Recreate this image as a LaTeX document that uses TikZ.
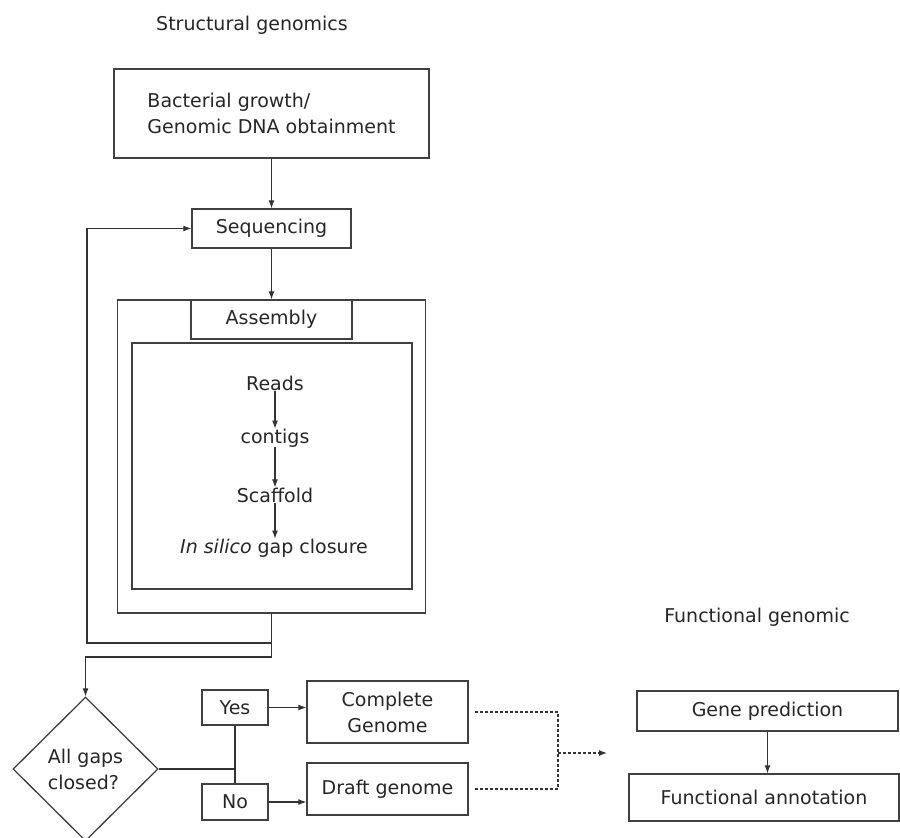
\documentclass[tikz,border=0pt]{standalone}
\usepackage{fontspec}
\setmainfont{DejaVu Sans}
\usetikzlibrary{shapes.geometric,arrows.meta}

\begin{document}
\begin{tikzpicture}[x=1pt,y=-1pt,
    font=\fontsize{19}{26}\selectfont, text=black!85,
    box/.style={draw=black!75, line width=1.3pt, inner sep=0pt},
    link/.style={draw=black!80, line width=1.1pt},
    arr/.style={link, -{Latex[length=8pt,width=6pt]}},
    dashlink/.style={link, densely dashed}]
  \useasboundingbox (0,0) rectangle (900,838);
  % Titulos
  \node (stitle) at (252,25) {Structural genomics};
  \node (ftitle) at (757,617) {Functional genomic};
  % Genomica estructural
  \node[box, minimum width=315, minimum height=89, align=left] (growth) at (271.5,113.5)
    {Bacterial growth/\\Genomic DNA obtainment};
  \node[box, minimum width=159, minimum height=39] (seq) at (271.5,228.5) {Sequencing};
  \node[box, minimum width=308, minimum height=313] (outer) at (271.5,456.5) {};
  \node[box, minimum width=161, minimum height=39] (asm) at (271.5,319.5) {Assembly};
  \node[box, minimum width=280, minimum height=246] (inner) at (272,466) {};
  \node[inner sep=0pt] (reads) at (275,383) {Reads};
  \node[inner sep=0pt] (contigs) at (275,438) {contigs};
  \node[inner sep=0pt] (scaf) at (275,495) {Scaffold};
  \node[inner sep=0pt] (gapc) at (274,548) {\textit{In silico} gap closure};
  \draw[arr] (growth) -- (seq);
  \draw[arr] (seq) -- (outer.north);
  \draw[arr] (reads) -- (contigs);
  \draw[arr] (contigs) -- (scaf);
  \draw[arr] (scaf) -- (scaf |- gapc.north);
  % Bucle de retorn
  \node[box, diamond, minimum width=145, minimum height=144, align=left] (gaps) at (85.5,769)
    {All gaps\\closed?};
  \coordinate (j1) at (271.5,643);
  \coordinate (j2) at (271.5,657);
  \coordinate (lc) at (87,643);
  \draw[link] (outer.south) -- (j2);
  \draw[arr] (j2) -| (gaps.north);
  \draw[arr] (j1) -- (lc) |- (seq.west);
  % Decisio
  \node[box, minimum width=66, minimum height=35] (yes) at (235,707.5) {Yes};
  \node[box, minimum width=66, minimum height=36] (no) at (235,802) {No};
  \node[box, minimum width=161, minimum height=62, align=center] (complete) at (387.5,712)
    {Complete\\Genome};
  \node[box, minimum width=161, minimum height=52] (draft) at (387.5,789) {Draft genome};
  \draw[link] (gaps.east) -- (yes.south |- gaps.east);
  \draw[link] (yes.south) -- (no.north);
  \draw[arr] (yes.east) -- (yes.east -| complete.west);
  \draw[arr] (no.east) -- (no.east -| draft.west);
  % Genomica funcional
  \coordinate (dm) at (558,753);
  \coordinate (fg) at (607,753);
  \draw[dashlink] ([xshift=6]complete.east) -| (dm);
  \draw[dashlink] ([xshift=6]draft.east) -| (dm);
  \draw[arr, densely dashed] (dm) -- (fg);
  \node[box, minimum width=261, minimum height=40] (gene) at (767.5,711) {Gene prediction};
  \node[box, minimum width=270, minimum height=47] (annot) at (764,797.5) {Functional annotation};
  \draw[arr] (gene) -- (gene |- annot.north);
\end{tikzpicture}
\end{document}
